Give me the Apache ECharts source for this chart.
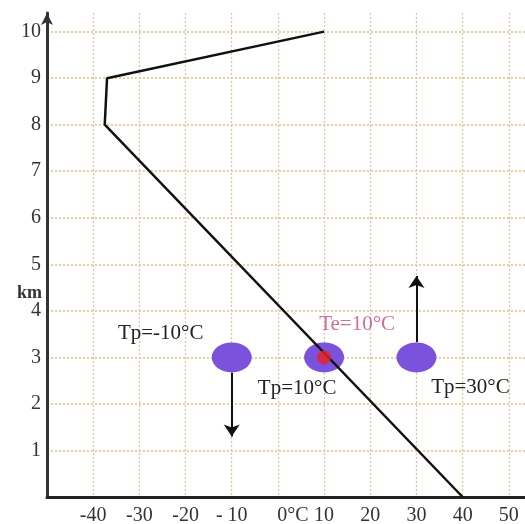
<!DOCTYPE html>
<html><head><meta charset="utf-8">
<script src="https://cdn.jsdelivr.net/npm/echarts@6/dist/echarts.min.js"></script>
<style>html,body{margin:0;padding:0;background:#fff}#c{width:525px;height:524px}</style>
</head><body><div id="c"></div>
<script>
// ---- data ----
const xTicks = [-40, -30, -20, -10, 0, 10, 20, 30, 40, 50];
const xTickLabels = ['-40', '-30', '-20', '- 10', '0°C', '10', '20', '30', '40', '50'];
const yTicks = [1, 2, 3, 4, 5, 6, 7, 8, 9, 10];
const yTickLabels = ['1', '2', '3', '4', '5', '6', '7', '8', '9', '10'];
const soundingTemp = [40, -37.5, -37, 10];
const soundingKm = [0, 8, 9, 10];
const parcelTemp = [-10, 10, 30];
const parcelKm = [3, 3, 3];
const parcelLabels = ['Tp=-10°C', 'Tp=10°C', 'Tp=30°C'];
const envTemp = [10];
const envKm = [3];
const envLabels = ['Te=10°C'];
const arrowTemp = [-10, 30];
const arrowFromKm = [2.67, 3.33];
const arrowToKm = [1.3, 4.75];
const yAxisName = 'km';

// ---- styles ----
const FONT = '"Liberation Serif", "DejaVu Serif", serif';
const parcelLabelOffsets = [[-71, -24], [-27, 31], [54, 30]];
const envLabelOffsets = [[33, -33]];
const gridColorH = '#ebbd88';
const gridColorV = '#dcc4a8';

const chart = echarts.init(document.getElementById('c'));
chart.setOption({
  animation: false,
  backgroundColor: '#fff',
  grid: { left: 47, right: 0, top: 13, bottom: 27, containLabel: false, outerBoundsMode: 'none' },
  xAxis: {
    type: 'value', min: -50, max: 53.5, interval: 10,
    axisLine: { show: true, onZero: false, lineStyle: { color: '#222', width: 3 } },
    axisTick: { show: false },
    splitLine: { show: true, showMinLine: false, showMaxLine: false,
      lineStyle: { color: gridColorV, width: 1.3, type: [2, 2] } },
    axisLabel: {
      showMinLabel: false, showMaxLabel: false, margin: 9,
      fontFamily: FONT, fontSize: 20, color: '#333',
      formatter: v => {
        const i = xTicks.indexOf(v);
        if (i < 0) return '';
        return v === 0 ? '{z|' + xTickLabels[i] + '}' : xTickLabels[i];
      },
      rich: { z: { fontFamily: FONT, fontSize: 20, color: '#333', padding: [0, 0, 0, 30] } }
    }
  },
  yAxis: {
    type: 'value', min: 0, max: 10.4, interval: 1,
    name: '{k|' + yAxisName + '}', nameLocation: 'middle', nameRotate: 0, nameGap: 5,
    nameMoveOverlap: false,
    nameTextStyle: { align: 'right', verticalAlign: 'middle',
      rich: { k: { fontFamily: FONT, fontSize: 18, fontWeight: 'bold', color: '#333',
        padding: [76, 0, 0, 0] } } },
    axisLine: { show: true, onZero: false, symbol: ['none', 'arrow'], symbolSize: [9, 12],
      lineStyle: { color: '#333', width: 3 } },
    axisTick: { show: false },
    splitLine: { show: true, showMinLine: false, showMaxLine: false,
      lineStyle: { color: gridColorH, width: 1.5, type: [2, 2] } },
    axisLabel: {
      showMinLabel: false, showMaxLabel: false, margin: 6,
      fontFamily: FONT, fontSize: 20, color: '#333',
      formatter: v => { const i = yTicks.indexOf(v); return i < 0 ? '' : yTickLabels[i]; }
    }
  },
  series: [
    {
      type: 'scatter', z: 2,
      symbol: 'circle', symbolSize: [40, 30],
      itemStyle: { color: '#7a52dc', opacity: 1 },
      data: parcelTemp.map((t, i) => ({
        value: [t, parcelKm[i]],
        label: { show: true, position: 'inside', offset: parcelLabelOffsets[i],
          formatter: parcelLabels[i], fontFamily: FONT, fontSize: 21, color: '#222' }
      }))
    },
    {
      type: 'lines', coordinateSystem: 'cartesian2d', z: 3,
      symbol: ['none', 'arrow'], symbolSize: [9, 12],
      lineStyle: { color: '#111', width: 2, opacity: 1 },
      data: arrowTemp.map((t, i) => ({ coords: [[t, arrowFromKm[i]], [t, arrowToKm[i]]] }))
    },
    {
      type: 'line', z: 4, showSymbol: false, symbol: 'none',
      lineStyle: { color: '#111', width: 2.5 },
      data: soundingTemp.map((t, i) => [t, soundingKm[i]])
    },
    {
      type: 'scatter', z: 5,
      symbol: 'circle', symbolSize: 14,
      itemStyle: { color: '#ec2020' },
      data: envTemp.map((t, i) => ({
        value: [t, envKm[i]],
        label: { show: true, position: 'inside', offset: envLabelOffsets[i],
          formatter: envLabels[i], fontFamily: FONT, fontSize: 21, color: '#c4487f' }
      }))
    }
  ]
});
</script></body></html>
